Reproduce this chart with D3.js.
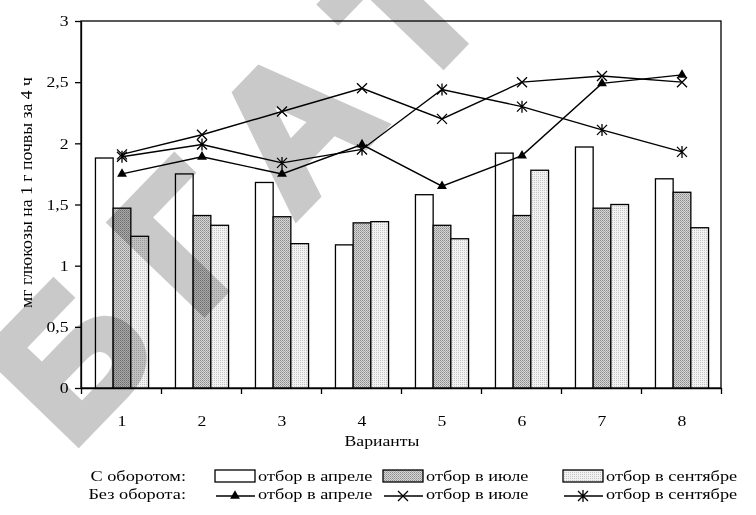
<!DOCTYPE html>
<html>
<head>
<meta charset="utf-8">
<script src="https://cdn.jsdelivr.net/npm/d3@7"></script>
<style>
  body { margin: 0; background: #fff; }
  svg { display: block; }
  text { font-family: "Liberation Serif", "Times New Roman", serif; }
</style>
</head>
<body>
<svg id="chart" width="756" height="515"></svg>
<script>
// Variants on the x axis
const variants = ["1", "2", "3", "4", "5", "6", "7", "8"];

// With turnover (bars): sampling in April, July, September
const withTurnApril = [1.88, 1.75, 1.68, 1.17, 1.58, 1.92, 1.97, 1.71];
const withTurnJuly  = [1.47, 1.41, 1.40, 1.35, 1.33, 1.41, 1.47, 1.60];
const withTurnSept  = [1.24, 1.33, 1.18, 1.36, 1.22, 1.78, 1.50, 1.31];

// Without turnover (lines): sampling in April, July, September
const noTurnApril = [1.75, 1.89, 1.75, 1.99, 1.65, 1.90, 2.49, 2.56];
const noTurnJuly  = [1.91, 2.07, 2.26, 2.45, 2.20, 2.50, 2.55, 2.50];
const noTurnSept  = [1.89, 1.99, 1.84, 1.95, 2.44, 2.30, 2.11, 1.93];

const yTicks = [0, 0.5, 1, 1.5, 2, 2.5, 3];
const seriesNames = ["отбор в апреле", "отбор в июле", "отбор в сентябре"];
const groupWith = "С оборотом:";
const groupWithout = "Без оборота:";
const yTitle = "мг глюкозы на 1 г почвы за 4 ч";
const xTitle = "Варианты";
const watermark = "БГАТУ";

// Text in this figure is set slightly wide
const WIDE = 1.18;

const svg = d3.select("#chart");

// Fill patterns for the July and September bars
const defs = svg.append("defs");
const pJ = defs.append("pattern").attr("id", "pJuly").attr("patternUnits", "userSpaceOnUse")
  .attr("width", 2).attr("height", 2);
pJ.append("rect").attr("width", 2).attr("height", 2).attr("fill", "#d6d6d6");
pJ.append("rect").attr("width", 1).attr("height", 1).attr("fill", "#8a8a8a");
pJ.append("rect").attr("x", 1).attr("y", 1).attr("width", 1).attr("height", 1).attr("fill", "#a8a8a8");
const pS = defs.append("pattern").attr("id", "pSept").attr("patternUnits", "userSpaceOnUse")
  .attr("width", 2).attr("height", 2);
pS.append("rect").attr("width", 2).attr("height", 2).attr("fill", "#f2f2f2");
pS.append("rect").attr("width", 1).attr("height", 1).attr("fill", "#c4c4c4");

const fills = ["#ffffff", "url(#pJuly)", "url(#pSept)"];

const plotLeft = 81, plotRight = 721, plotTop = 21, plotBottom = 388;

const x = d3.scaleBand().domain(variants).range([plotLeft, plotRight]).padding(0);
const xs = d3.scaleBand().domain([0, 1, 2]).range([1, x.bandwidth() + 1])
  .paddingInner(0).paddingOuter(0.76);
const y = d3.scaleLinear().domain([0, 3]).range([plotBottom, plotTop]);
const xBound = d3.scaleLinear().domain([0, variants.length]).range([plotLeft, plotRight]);

// Helper for a widened text label
function label(parent, tx, ty, str, size, anchor) {
  return parent.append("text")
    .attr("transform", `translate(${tx},${ty}) scale(${WIDE},1)`)
    .attr("text-anchor", anchor || "start")
    .attr("font-size", size)
    .style("fill", "#000")
    .text(str);
}

// Frame
svg.append("rect").attr("x", plotLeft).attr("y", plotTop)
  .attr("width", plotRight - plotLeft).attr("height", plotBottom - plotTop)
  .attr("fill", "none").attr("stroke", "#000").attr("stroke-width", 1.3);

// Bars
const barData = [withTurnApril, withTurnJuly, withTurnSept];
barData.forEach((vals, si) => {
  svg.append("g").selectAll("rect").data(vals).join("rect")
    .attr("x", (d, i) => x(variants[i]) + xs(si))
    .attr("y", d => y(d))
    .attr("width", xs.bandwidth())
    .attr("height", d => y(0) - y(d))
    .attr("fill", fills[si])
    .attr("stroke", "#000")
    .attr("stroke-width", 1.3);
});

// Marker shapes
const tri = d3.symbol(d3.symbolTriangle, 42);
const crossPath = "M-5,-5L5,5M-5,5L5,-5";
const starPath = "M-5,-5L5,5M-5,5L5,-5M0,-6L0,6";

function drawMarker(g, kind, cx, cy) {
  if (kind === 0) {
    g.append("path").attr("d", tri()).attr("transform", `translate(${cx},${cy})`).attr("fill", "#000");
  } else {
    g.append("path").attr("d", kind === 1 ? crossPath : starPath)
      .attr("transform", `translate(${cx},${cy})`)
      .attr("fill", "none").attr("stroke", "#000").attr("stroke-width", 1.3);
  }
}

// Lines
const lineData = [noTurnApril, noTurnJuly, noTurnSept];
const cxOf = i => x(variants[i]) + x.bandwidth() / 2 + 1;
const line = d3.line().x((d, i) => cxOf(i)).y(d => y(d));
lineData.forEach((vals, si) => {
  const g = svg.append("g");
  g.append("path").datum(vals).attr("d", line)
    .attr("fill", "none").attr("stroke", "#000").attr("stroke-width", 1.4);
  vals.forEach((v, i) => drawMarker(g, si, cxOf(i), y(v)));
});

// Y axis
const yAxis = svg.append("g").attr("transform", `translate(${plotLeft},0)`)
  .call(d3.axisLeft(y).tickValues(yTicks).tickSize(6).tickSizeOuter(0).tickPadding(9)
    .tickFormat(d => String(d).replace(".", ",")));
yAxis.selectAll("text").attr("font-size", 15).style("fill", "#000")
  .attr("x", -12.5 / WIDE).attr("transform", `scale(${WIDE},1)`);
yAxis.selectAll("line, path").attr("stroke", "#000").attr("stroke-width", 1.3);

// X axis: ticks at variant boundaries, labels at variant centres
const xTickAxis = svg.append("g").attr("transform", `translate(0,${plotBottom})`)
  .call(d3.axisBottom(xBound).ticks(variants.length).tickSize(6).tickSizeOuter(0).tickFormat(""));
xTickAxis.selectAll("line, path").attr("stroke", "#000").attr("stroke-width", 1.3);
const xLabelAxis = svg.append("g").attr("transform", `translate(1,${plotBottom})`)
  .call(d3.axisBottom(x).tickSize(0).tickPadding(27));
xLabelAxis.select(".domain").remove();
xLabelAxis.selectAll("text").attr("font-size", 15).style("fill", "#000")
  .attr("transform", `scale(${WIDE},1)`);

// Axis titles
svg.append("text").attr("transform", "translate(32,192.5) rotate(-90)")
  .attr("text-anchor", "middle").attr("font-size", 16).style("fill", "#000")
  .attr("textLength", 231).attr("lengthAdjust", "spacingAndGlyphs")
  .text(yTitle);
label(svg, 382, 446, xTitle, 15, "middle");

// Legend
const legend = svg.append("g");
const row1 = 481, row2 = 499;
label(legend, 186, row1, groupWith, 15.5, "end");
label(legend, 186, row2, groupWithout, 15.5, "end");
const legX = [215, 383, 563];
seriesNames.forEach((name, si) => {
  const lx = legX[si];
  legend.append("rect").attr("x", lx).attr("y", 470).attr("width", 40).attr("height", 12)
    .attr("fill", fills[si]).attr("stroke", "#000").attr("stroke-width", 1.3);
  label(legend, lx + 43, row1, name, 15.5);
  const ly = 496;
  legend.append("line").attr("x1", lx + 1).attr("x2", lx + 40).attr("y1", ly).attr("y2", ly)
    .attr("stroke", "#000").attr("stroke-width", 1.4);
  drawMarker(legend, si, lx + 20, ly);
  label(legend, lx + 43, row2, name, 15.5);
});

// Watermark across the chart
svg.append("text")
  .attr("transform", "translate(70,450) rotate(-46)")
  .attr("text-anchor", "start")
  .attr("font-weight", "bold").attr("font-size", 185)
  .attr("letter-spacing", 48)
  .style("font-family", "'Liberation Sans', Arial, sans-serif")
  .style("fill", "#c9c9c9").style("stroke", "#c9c9c9").style("stroke-width", 10)
  .style("stroke-linejoin", "miter")
  .style("mix-blend-mode", "multiply")
  .text(watermark);
</script>
</body>
</html>
